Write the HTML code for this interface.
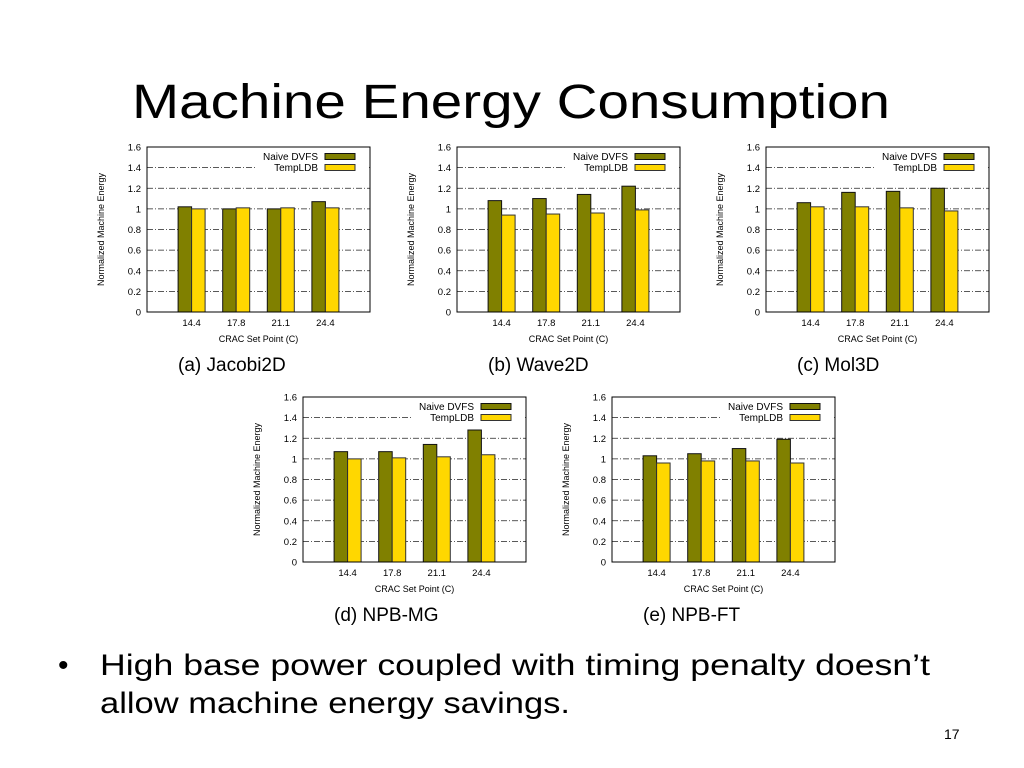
<!DOCTYPE html>
<html><head><meta charset="utf-8"><style>
html,body{margin:0;padding:0;background:#fff;}
svg{display:block;font-family:"Liberation Sans",sans-serif;}
</style></head><body>
<svg id="s" width="1024" height="768" viewBox="0 0 1024 768" xmlns="http://www.w3.org/2000/svg">
<text x="132" y="118" font-size="48" fill="#000" textLength="758" lengthAdjust="spacingAndGlyphs">Machine Energy Consumption</text>
<text x="58" y="675" font-size="30">•</text>
<text x="100" y="675" font-size="30" textLength="830" lengthAdjust="spacingAndGlyphs">High base power coupled with timing penalty doesn’t</text>
<text x="100" y="713" font-size="30" textLength="470" lengthAdjust="spacingAndGlyphs">allow machine energy savings.</text>
<text x="944" y="739" font-size="14">17</text>
<g id="charts"></g>
</svg>
<script>
var categories = ["14.4","17.8","21.1","24.4"];
var yTicks = [0,0.2,0.4,0.6,0.8,1,1.2,1.4,1.6];
var yTickLabels = ["0","0.2","0.4","0.6","0.8","1","1.2","1.4","1.6"];
var captions = ["(a) Jacobi2D","(b) Wave2D","(c) Mol3D","(d) NPB-MG","(e) NPB-FT"];
var naiveA = [1.02,1.00,1.00,1.07], templA = [1.00,1.01,1.01,1.01];
var naiveB = [1.08,1.10,1.14,1.22], templB = [0.94,0.95,0.96,0.99];
var naiveC = [1.06,1.16,1.17,1.20], templC = [1.02,1.02,1.01,0.98];
var naiveD = [1.07,1.07,1.14,1.28], templD = [1.00,1.01,1.02,1.04];
var naiveE = [1.03,1.05,1.10,1.19], templE = [0.96,0.98,0.98,0.96];
var naiveAll = [naiveA,naiveB,naiveC,naiveD,naiveE];
var templAll = [templA,templB,templC,templD,templE];

var NS="http://www.w3.org/2000/svg";
var root=document.getElementById('charts');
var origins=[[147,147],[457,147],[766,147],[303,397],[612,397]];
var W=223,H=165;
function mk(tag,parent){var e=document.createElementNS(NS,tag);parent.appendChild(e);return e;}
function txt(parent,x,y,s,size,anchor){var t=mk('text',parent);t.setAttribute('x',x);t.setAttribute('y',y);t.setAttribute('font-size',size);if(anchor)t.setAttribute('text-anchor',anchor);t.textContent=s;return t;}
for(var c=0;c<5;c++){
  var ox=origins[c][0],oy=origins[c][1];
  var g=mk('g',root);
  
  
  var ys=function(v){return oy+H-v/1.6*H;};
  var xs=function(i){return ox+(i+1)*W/5;};
  // grid
  for(var k=1;k<yTicks.length-1;k++){
    var l=mk('line',g);
    
    
    var yy=ys(yTicks[k]);
    l.setAttribute('x1',ox);l.setAttribute('x2',ox+W);l.setAttribute('y1',yy);l.setAttribute('y2',yy);
    l.setAttribute('stroke','#222');l.setAttribute('stroke-width','0.8');l.setAttribute('stroke-dasharray','6,2,1,2');
  }
  for(var k=0;k<yTicks.length;k++){
    var t=txt(g,ox-6,ys(yTicks[k])+3.5,yTickLabels[k],9.5,'end');
    
    
  }
  // bars
  var bw=13.5;
  for(var i=0;i<categories.length;i++){
    var cx=xs(i);
    var b1=mk('rect',g);
    
    
    b1.setAttribute('x',cx-bw);b1.setAttribute('width',bw);b1.setAttribute('y',ys(naiveAll[c][i]));b1.setAttribute('height',ys(0)-ys(naiveAll[c][i]));
    b1.setAttribute('fill','#808000');b1.setAttribute('stroke','#111');b1.setAttribute('stroke-width','1');
    var b2=mk('rect',g);
    
    
    b2.setAttribute('x',cx);b2.setAttribute('width',bw);b2.setAttribute('y',ys(templAll[c][i]));b2.setAttribute('height',ys(0)-ys(templAll[c][i]));
    b2.setAttribute('fill','#ffd700');b2.setAttribute('stroke','#333');b2.setAttribute('stroke-width','1');
    var tl=txt(g,cx,ys(0)+14,categories[i],9.5,'middle');
    
    
  }
  // legend
  var lb=mk('rect',g);lb.setAttribute('x',ox+108);lb.setAttribute('y',oy+3);lb.setAttribute('width',114);lb.setAttribute('height',24);lb.setAttribute('fill','#fff');
  
  
  var lt1=txt(g,ox+171,oy+13,'Naive DVFS',10,'end');
  
  
  var lt2=txt(g,ox+171,oy+24,'TempLDB',10,'end');
  
  
  var s1=mk('rect',g);s1.setAttribute('x',ox+178);s1.setAttribute('y',oy+6.5);s1.setAttribute('width',30);s1.setAttribute('height',6);s1.setAttribute('fill','#808000');s1.setAttribute('stroke','#111');
  
  
  var s2=mk('rect',g);s2.setAttribute('x',ox+178);s2.setAttribute('y',oy+17.5);s2.setAttribute('width',30);s2.setAttribute('height',6);s2.setAttribute('fill','#ffd700');s2.setAttribute('stroke','#333');
  
  
  // frame
  var f=mk('rect',g);f.setAttribute('x',ox);f.setAttribute('y',oy);f.setAttribute('width',W);f.setAttribute('height',H);f.setAttribute('fill','none');f.setAttribute('stroke','#000');f.setAttribute('stroke-width','1');
  
  
  var yt=txt(g,0,0,'Normalized Machine Energy',9,'middle');
  yt.setAttribute('transform','translate('+(ox-43)+','+(oy+H/2)+') rotate(-90)');
  
  
  var xt=txt(g,ox+W/2,oy+H+30,'CRAC Set Point (C)',9,'middle');
  
  
  var cap=txt(g,ox+31,oy+H+59,captions[c],19,'start');
  
  
}
</script>
</body></html>
